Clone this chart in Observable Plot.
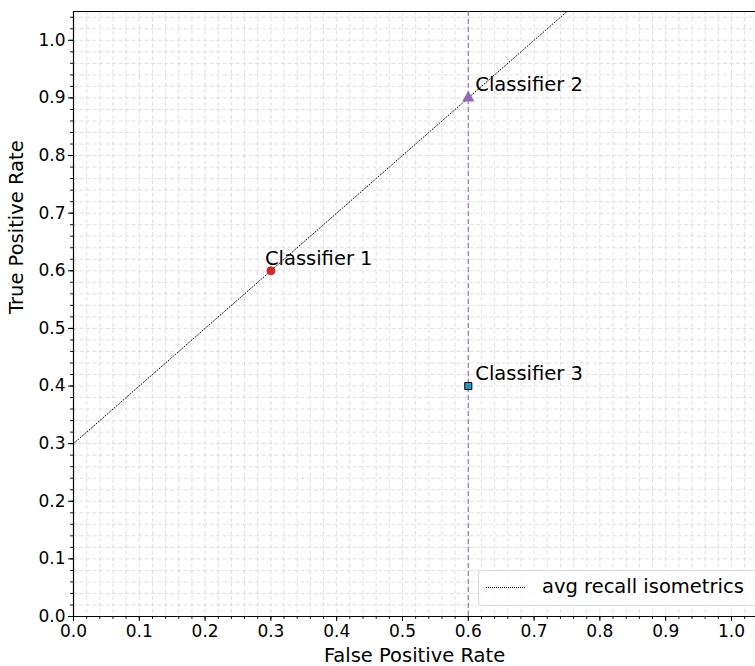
<!DOCTYPE html>
<html>
<head>
<meta charset="utf-8">
<script src="https://cdn.jsdelivr.net/npm/d3@7"></script>
<script src="https://cdn.jsdelivr.net/npm/@observablehq/plot@0.6"></script>
<style>
  html, body { margin: 0; padding: 0; background: #fff; }
  #wrap { position: relative; width: 755px; height: 666px; overflow: hidden; font-family: "DejaVu Sans", sans-serif; }
  #legend { position: absolute; left: 478px; top: 570px; width: 280px; height: 36px; box-sizing: border-box;
    border: 1px solid #d9d9d9; border-radius: 4px; background: rgba(255,255,255,0.85); }
  #legend .sw { position: absolute; left: 7px; top: 16px; width: 39px; border-top: 1.2px dotted #000; }
  #legend .lab { position: absolute; left: 63px; top: 4px; font-size: 19.5px; color: #000; white-space: nowrap; }
</style>
</head>
<body>
<div id="wrap"><div id="chart"></div>
<div id="legend"><div class="sw"></div><div class="lab">avg recall isometrics</div></div>
</div>
<script>
// Data
const classifiers = ["Classifier 1", "Classifier 2", "Classifier 3"];
const fpr = [0.3, 0.6, 0.6];
const tpr = [0.6, 0.9, 0.4];
const colors = ["#d62728", "#9467bd", "#1a9ec4"];
const symbols = ["circle", "triangle", "square"];
const isometricOffset = 0.3;       // TPR - FPR
const verticalLineX = 0.6;
const majorTicks = [0.0, 0.1, 0.2, 0.3, 0.4, 0.5, 0.6, 0.7, 0.8, 0.9, 1.0];
const xMax = 1.0365, yMax = 1.05;

const pts = classifiers.map((c, i) => ({name: c, x: fpr[i], y: tpr[i], color: colors[i], symbol: symbols[i]}));
const minorX = d3.range(0, 52).map(i => +(i * 0.02).toFixed(2)).filter(v => v <= xMax);
const minorY = d3.range(0, 53).map(i => +(i * 0.02).toFixed(2)).filter(v => v <= yMax);
const iso = [{x: 0, y: isometricOffset}, {x: yMax - isometricOffset, y: yMax}];

const font = "DejaVu Sans";
const chart = Plot.plot({
  width: 755, height: 666,
  marginLeft: 73, marginRight: 0, marginTop: 11, marginBottom: 50,
  style: {fontFamily: font, fontSize: "17px", color: "#000", background: "#fff"},
  x: {domain: [0, xMax], label: null},
  y: {domain: [0, yMax], label: null},
  marks: [
    // grid
    Plot.ruleX(minorX, {stroke: "#d8d8d8", strokeWidth: 0.8, strokeDasharray: "4,2.5"}),
    Plot.ruleY(minorY, {stroke: "#d8d8d8", strokeWidth: 0.8, strokeDasharray: "4,2.5"}),
    // axes
    Plot.axisX(minorX, {tickSize: 3, text: null, strokeWidth: 0.9}),
    Plot.axisY(minorY, {tickSize: 3, text: null, strokeWidth: 0.9}),
    Plot.axisX(majorTicks, {tickSize: 5, tickPadding: 3, tickFormat: d => d.toFixed(1), fontSize: 17, label: null, strokeWidth: 1}),
    Plot.axisY(majorTicks, {tickSize: 5, tickPadding: 3, tickFormat: d => d.toFixed(1), fontSize: 17, label: null, strokeWidth: 1}),
    // spines
    Plot.ruleX([0], {stroke: "#000", strokeWidth: 1.2}),
    Plot.ruleY([0], {stroke: "#000", strokeWidth: 1.2}),
    Plot.ruleY([yMax], {stroke: "#000", strokeWidth: 1.2}),
    // isometric
    Plot.line(iso, {x: "x", y: "y", stroke: "#000", strokeWidth: 1, strokeDasharray: "1,2"}),
    // vertical line
    Plot.ruleX([verticalLineX], {stroke: "#9467bd", strokeOpacity: 0.85, strokeWidth: 1.3, strokeDasharray: "5,3"}),
    // points
    Plot.dot(pts, {x: "x", y: "y", fill: "color", symbol: "symbol", r: 4,
      stroke: d => d.symbol === "square" ? "#000" : d.color, strokeWidth: 1}),
    Plot.text(pts, {x: "x", y: "y", text: "name", fontSize: 19.5, textAnchor: "start", fill: "#000"}),
    // axis labels
    Plot.text(["False Positive Rate"], {frameAnchor: "bottom", dy: 39, fontSize: 19.5, lineAnchor: "middle"}),
    Plot.text(["True Positive Rate"], {frameAnchor: "left", dx: -57, rotate: -90, fontSize: 19.5, lineAnchor: "middle"})
  ]
});
// per-label offsets (matplotlib annotations placed at offset points)
const labelOffsets = [[-6, -12], [7, -13], [7, -12]];
chart.querySelectorAll("text").forEach(t => {
  const i = classifiers.indexOf(t.textContent);
  if (i >= 0) {
    t.setAttribute("dx", labelOffsets[i][0]);
    t.setAttribute("dy", labelOffsets[i][1]);
  }
});
document.getElementById("chart").appendChild(chart);
</script>
</body>
</html>
